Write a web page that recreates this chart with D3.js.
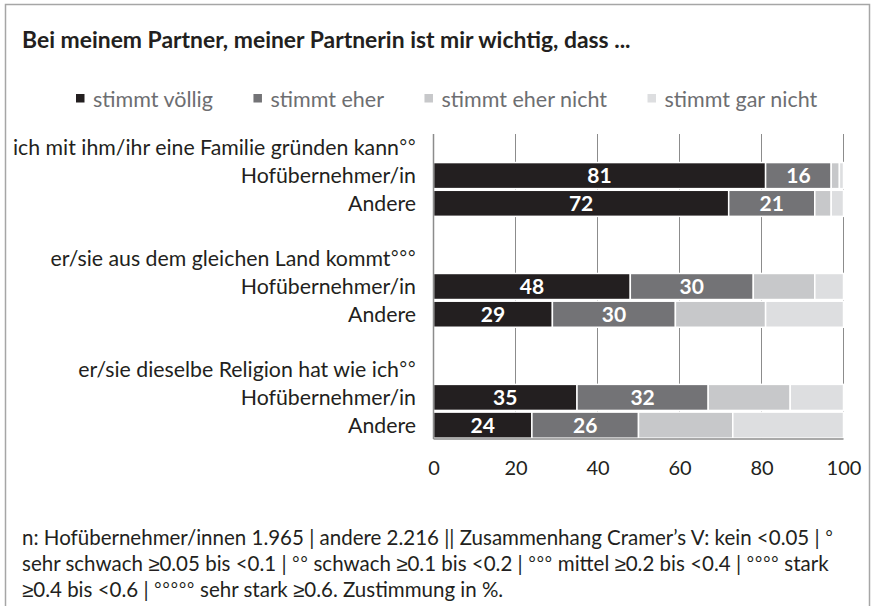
<!DOCTYPE html>
<html>
<head>
<meta charset="utf-8">
<script src="https://cdn.jsdelivr.net/npm/d3@7"></script>
<style>
  html, body { margin: 0; padding: 0; background: #fff; }
  svg { display: block; }
  text { font-family: Lato, "Open Sans", sans-serif; }
</style>
</head>
<body>
<svg id="chart" width="872" height="606"></svg>
<script>
// ---------- data ----------
const title = "Bei meinem Partner, meiner Partnerin ist mir wichtig, dass ...";
const statements = [
  "ich mit ihm/ihr eine Familie gründen kann°°",
  "er/sie aus dem gleichen Land kommt°°°",
  "er/sie dieselbe Religion hat wie ich°°"
];
const groups = ["Hofübernehmer/in", "Andere"];
const seriesNames = ["stimmt völlig", "stimmt eher", "stimmt eher nicht", "stimmt gar nicht"];
// order: [stmt1 Hof, stmt1 Andere, stmt2 Hof, stmt2 Andere, stmt3 Hof, stmt3 Andere]
const stimmtVoellig   = [81, 72, 48, 29, 35, 24];
const stimmtEher      = [16, 21, 30, 30, 32, 26];
const stimmtEherNicht = [2, 4, 15, 22, 20, 23];
const stimmtGarNicht  = [1, 3, 7, 19, 13, 27];
const labelledSeries  = ["stimmt völlig", "stimmt eher"];
const tickValues = [0, 20, 40, 60, 80, 100];
const footnote = [
  "n: Hofübernehmer/innen 1.965 | andere 2.216 || Zusammenhang Cramer’s V: kein <0.05 | °",
  "sehr schwach ≥0.05 bis <0.1 | °° schwach ≥0.1 bis <0.2 | °°° mittel ≥0.2 bis <0.4 | °°°° stark",
  "≥0.4 bis <0.6 | °°°°° sehr stark ≥0.6. Zustimmung in %."
];
const colors = ["#231f20", "#737376", "#c7c8ca", "#dddee0"];

// ---------- helpers ----------
const symbolFont = "'Liberation Sans Narrow', 'Liberation Sans', sans-serif";
function richText(sel, accessor) {
  sel.each(function(d, i) {
    const str = accessor(d, i);
    d3.select(this).selectAll("tspan")
      .data(str.split(/([°≥]+)/).filter(s => s.length))
      .join("tspan")
      .attr("font-family", s => /^[°≥]+$/.test(s) ? symbolFont : null)
      .text(s => s);
  });
}

// ---------- build rows ----------
const seriesArrays = [stimmtVoellig, stimmtEher, stimmtEherNicht, stimmtGarNicht];
const rows = [];
statements.forEach((s, i) => {
  if (i > 0) rows.push({ key: "sep" + i, type: "sep", label: "" });
  rows.push({ key: "stmt" + i, type: "head", label: s });
  groups.forEach((g, j) => {
    const idx = i * groups.length + j;
    const r = { key: "r" + i + "_" + j, type: "bar", label: g };
    seriesNames.forEach((n, k) => r[n] = seriesArrays[k][idx]);
    rows.push(r);
  });
});
const barRows = rows.filter(r => r.type === "bar");

// ---------- chart ----------
const svg = d3.select("#chart");
svg.append("rect").attr("width", 872).attr("height", 606).attr("fill", "#fff");
svg.append("rect").attr("x", 5.5).attr("y", 4.5).attr("width", 864).attr("height", 700)
  .attr("fill", "none").attr("stroke", "#a6a6a6").attr("stroke-width", 1.5);

// title
svg.append("text").attr("x", 22).attr("y", 48)
  .attr("font-size", 22.9).attr("font-weight", 700).attr("fill", "#231f20")
  .text(title);

// legend
const legend = svg.append("g");
let lx = 76;
seriesNames.forEach((n, k) => {
  legend.append("rect").attr("x", lx).attr("y", 94).attr("width", 8.5).attr("height", 8.5)
    .attr("fill", colors[k]);
  const t = legend.append("text").attr("x", lx + 17).attr("y", 106.5)
    .attr("font-size", 21.5).attr("fill", "#6d6e71").text(n);
  lx = lx + 17 + t.node().getComputedTextLength() + 40.5;
});

const x = d3.scaleLinear().domain([0, 100]).range([433.5, 843.5]);
const y = d3.scaleBand().domain(rows.map(r => r.key)).range([134, 439]).paddingInner(0.06).paddingOuter(0.03);
const plotTop = 134, plotBottom = 439;

// gridlines
svg.append("g").selectAll("line").data(tickValues.slice(1)).join("line")
  .attr("x1", d => x(d)).attr("x2", d => x(d))
  .attr("y1", plotTop).attr("y2", plotBottom)
  .attr("stroke", "#8c8c8c").attr("stroke-width", 1);

// stacked bars
const stack = d3.stack().keys(seriesNames);
const stacked = stack(barRows);
const gBars = svg.append("g");
stacked.forEach((layer, k) => {
  gBars.append("g").selectAll("rect").data(layer).join("rect")
    .attr("x", d => x(d[0])).attr("width", d => x(d[1]) - x(d[0]))
    .attr("y", d => y(d.data.key)).attr("height", y.bandwidth())
    .attr("fill", colors[k]).attr("stroke", "#fff").attr("stroke-width", 1.5);
});
// value labels
stacked.filter(l => labelledSeries.includes(l.key)).forEach(layer => {
  gBars.append("g").selectAll("text").data(layer).join("text")
    .attr("x", d => (x(d[0]) + x(d[1])) / 2)
    .attr("y", d => y(d.data.key) + y.bandwidth() / 2 + 7.5)
    .attr("text-anchor", "middle").attr("font-size", 21).attr("font-weight", 700)
    .attr("fill", "#fff").text(d => d[1] - d[0]);
});

// axis lines
svg.append("line").attr("x1", x(0)).attr("x2", x(0)).attr("y1", plotTop).attr("y2", plotBottom)
  .attr("stroke", "#8c8c8c").attr("stroke-width", 1.5);
svg.append("line").attr("x1", x(0)).attr("x2", x(100)).attr("y1", plotBottom).attr("y2", plotBottom)
  .attr("stroke", "#8c8c8c").attr("stroke-width", 1.5);

// x axis ticks
const xAxis = d3.axisBottom(x).tickValues(tickValues).tickSize(0).tickPadding(21.5);
const gx = svg.append("g").attr("transform", `translate(0,${plotBottom})`).call(xAxis);
gx.select(".domain").remove();
gx.selectAll("text").attr("font-size", 20).attr("fill", "#231f20").attr("font-family", "Lato, sans-serif");

// row labels
svg.append("g").selectAll("text").data(rows.filter(r => r.type !== "sep")).join("text")
  .attr("x", 416).attr("y", d => y(d.key) + y.bandwidth() / 2 + 7.5)
  .attr("text-anchor", "end").attr("font-size", 21.3).attr("fill", "#231f20")
  .call(richText, d => d.label);

// footnote
svg.append("g").selectAll("text").data(footnote).join("text")
  .attr("x", 22).attr("y", (d, i) => 544.5 + i * 26)
  .attr("font-size", 20.5).attr("fill", "#231f20")
  .call(richText, d => d);
</script>
</body>
</html>
